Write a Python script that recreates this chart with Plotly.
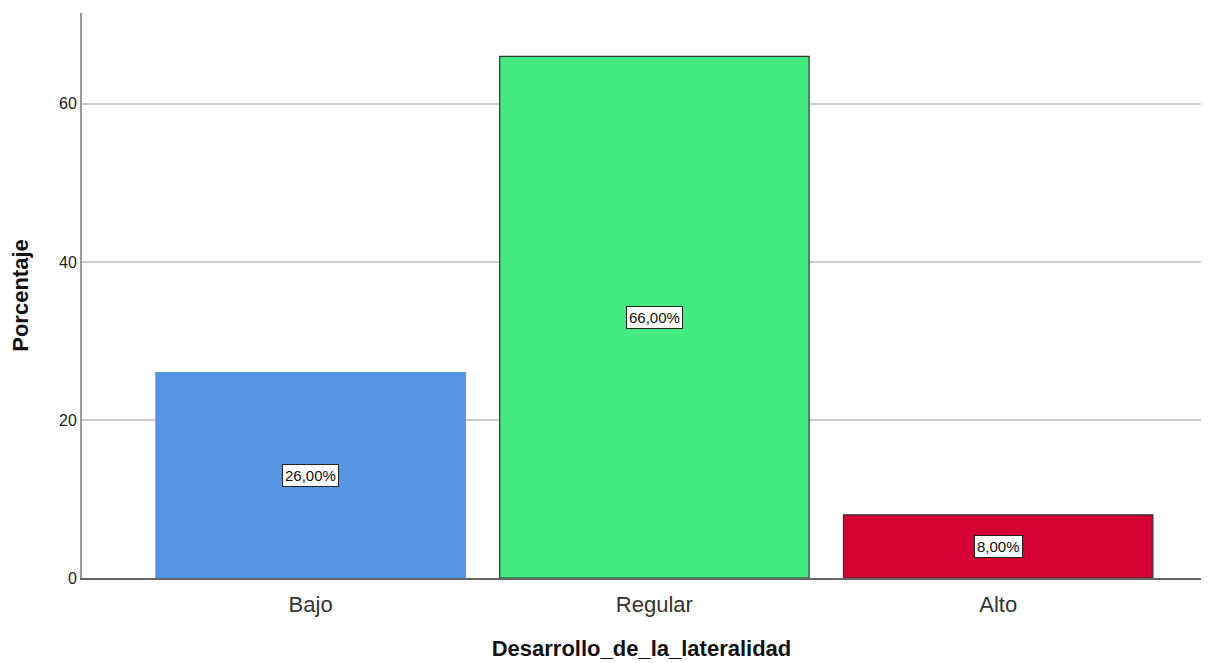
import plotly.graph_objects as go

categorias = ["Bajo", "Regular", "Alto"]
porcentajes = [26.0, 66.0, 8.0]
etiquetas = ["26,00%", "66,00%", "8,00%"]

colores = ["#5694E4", "#42EA80", "#D50032"]
bordes = ["#5694E4", "#333333", "#333333"]

fig = go.Figure()
fig.add_trace(go.Bar(
    x=categorias, y=porcentajes,
    width=0.9,
    marker=dict(color=colores, line=dict(color=bordes, width=1.2)),
    hoverinfo="x+y",
))

# etiquetas en mitad de cada barra
for c, v, t in zip(categorias, porcentajes, etiquetas):
    fig.add_annotation(
        x=c, y=v / 2, text=t, showarrow=False,
        font=dict(family="Liberation Sans, Arial", size=15, color="#111111"),
        bgcolor="white", bordercolor="#222222", borderwidth=1, borderpad=2,
    )

fig.update_layout(
    width=1215, height=663,
    margin=dict(l=74, r=22, t=5, b=93),
    paper_bgcolor="white", plot_bgcolor="white",
    font=dict(family="Liberation Sans, Arial", color="#222222"),
    showlegend=False,
    xaxis=dict(
        range=[-0.665, 2.59],
        showgrid=False, zeroline=False,
        showline=True, linecolor="#666666", linewidth=1.5,
        ticks="", tickfont=dict(size=22, color="#333333"),
        ticklabelstandoff=6,
        title=dict(text="<b>Desarrollo_de_la_lateralidad</b>",
                   font=dict(size=22, color="#111111"), standoff=24),
    ),
    yaxis=dict(
        range=[0, 71.5],
        tickvals=[0, 20, 40, 60],
        showgrid=True, gridcolor="#cccccc", gridwidth=1.5,
        zeroline=False,
        showline=True, linecolor="#999999", linewidth=2,
        ticks="", tickfont=dict(size=16, color="#222222"),
        title=dict(text="<b>Porcentaje</b>",
                   font=dict(size=22, color="#111111"), standoff=26),
    ),
)

fig.write_html("out.html")
